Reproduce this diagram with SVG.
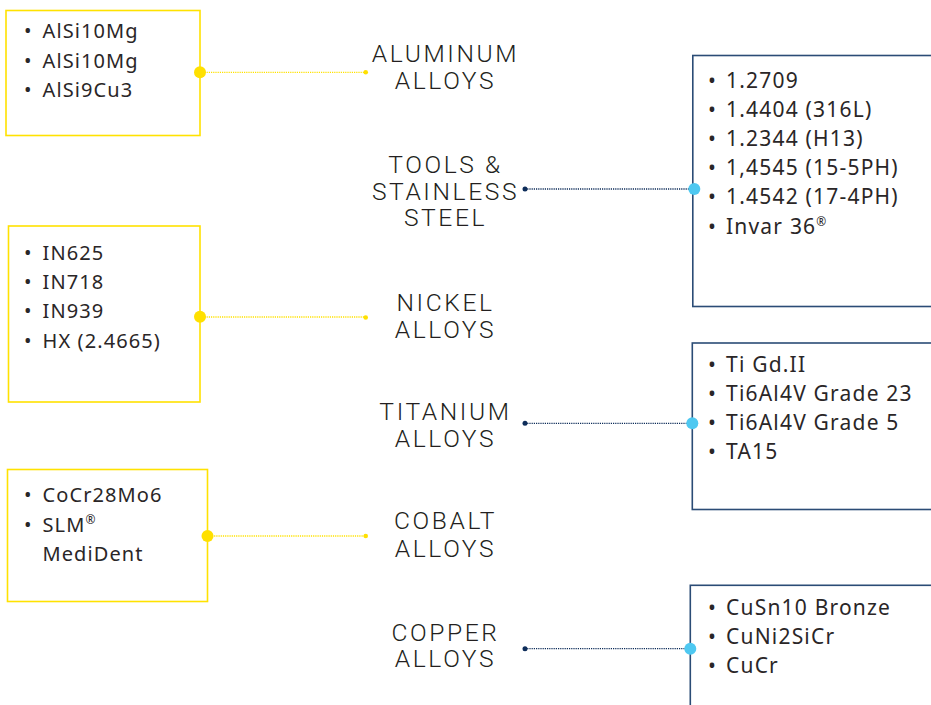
<svg xmlns="http://www.w3.org/2000/svg" width="931" height="705" viewBox="0 0 931 705">
<style>
  .ybox{fill:#fff;stroke:#FFE200;stroke-width:1.6}
  .bbox{fill:#fff;stroke:#2B4C76;stroke-width:1.6}
  .item{font-family:"Noto Sans","Open Sans","Liberation Sans",sans-serif;font-size:20px;font-weight:400;fill:#2a2627;letter-spacing:1.1px}
  .ritem{font-size:21px;letter-spacing:1.2px}
  .lab{font-family:Roboto,"Liberation Sans",sans-serif;font-weight:300;font-size:24.6px;fill:#231f20;text-anchor:middle;letter-spacing:2.6px}
  .yl{stroke:#FFE200;stroke-width:1.3;stroke-dasharray:1.2 1;fill:none}
  .bl{stroke:#0E2D5A;stroke-width:1.3;stroke-dasharray:1.2 1;fill:none}
  .ydot{fill:#FFE000}
  .bdot{fill:#0E2D5A}
  .cdot{fill:#4EC8F1}
  .sup{font-size:12px;letter-spacing:0}
</style>
<rect width="931" height="705" fill="#fff"/>

<g id="box-aluminum">
  <rect class="ybox" x="6" y="10.5" width="194" height="125"/>
  <text class="item" y="38"><tspan x="24">•</tspan><tspan x="42.5">AlSi10Mg</tspan></text>
  <text class="item" y="67.5"><tspan x="24">•</tspan><tspan x="42.5">AlSi10Mg</tspan></text>
  <text class="item" y="97"><tspan x="24">•</tspan><tspan x="42.5">AlSi9Cu3</tspan></text>
</g>
<g id="box-nickel">
  <rect class="ybox" x="8.5" y="226" width="191.5" height="176"/>
  <text class="item" y="260"><tspan x="24">•</tspan><tspan x="42.5">IN625</tspan></text>
  <text class="item" y="289"><tspan x="24">•</tspan><tspan x="42.5">IN718</tspan></text>
  <text class="item" y="318"><tspan x="24">•</tspan><tspan x="42.5">IN939</tspan></text>
  <text class="item" y="347.5"><tspan x="24">•</tspan><tspan x="42.5">HX (2.4665)</tspan></text>
</g>
<g id="box-cobalt">
  <rect class="ybox" x="7.5" y="469.5" width="200" height="132"/>
  <text class="item" y="502"><tspan x="24">•</tspan><tspan x="42.5">CoCr28Mo6</tspan></text>
  <text class="item" y="531.5"><tspan x="24">•</tspan><tspan x="42.5">SLM</tspan><tspan class="sup" dy="-8">®</tspan></text>
  <text class="item" x="42.5" y="560.5">MediDent</text>
</g>

<g id="label-aluminum">
  <text class="lab" x="445.5" y="62">ALUMINUM</text>
  <text class="lab" x="445.5" y="89">ALLOYS</text>
</g>
<g id="label-tools">
  <text class="lab" x="445.5" y="172.5">TOOLS &amp;</text>
  <text class="lab" x="445.5" y="199.5">STAINLESS</text>
  <text class="lab" x="445.5" y="226">STEEL</text>
</g>
<g id="label-nickel">
  <text class="lab" x="445.5" y="310.5">NICKEL</text>
  <text class="lab" x="445.5" y="337.5">ALLOYS</text>
</g>
<g id="label-titanium">
  <text class="lab" x="445.5" y="420">TITANIUM</text>
  <text class="lab" x="445.5" y="447">ALLOYS</text>
</g>
<g id="label-cobalt">
  <text class="lab" x="445.5" y="529">COBALT</text>
  <text class="lab" x="445.5" y="556.5">ALLOYS</text>
</g>
<g id="label-copper">
  <text class="lab" x="445.5" y="640.5">COPPER</text>
  <text class="lab" x="445.5" y="667">ALLOYS</text>
</g>

<g id="box-tools">
  <rect class="bbox" x="692.8" y="55.5" width="260" height="251"/>
  <text class="item ritem" y="87.5"><tspan x="708">•</tspan><tspan x="726">1.2709</tspan></text>
  <text class="item ritem" y="116.7"><tspan x="708">•</tspan><tspan x="726">1.4404 (316L)</tspan></text>
  <text class="item ritem" y="146"><tspan x="708">•</tspan><tspan x="726">1.2344 (H13)</tspan></text>
  <text class="item ritem" y="175"><tspan x="708">•</tspan><tspan x="726">1,4545 (15-5PH)</tspan></text>
  <text class="item ritem" y="204.3"><tspan x="708">•</tspan><tspan x="726">1.4542 (17-4PH)</tspan></text>
  <text class="item ritem" y="234"><tspan x="708">•</tspan><tspan x="726">Invar 36</tspan><tspan class="sup" dy="-8">®</tspan></text>
</g>
<g id="box-titanium">
  <rect class="bbox" x="692.3" y="343" width="260" height="166.5"/>
  <text class="item ritem" y="371.5"><tspan x="708">•</tspan><tspan x="726">Ti Gd.II</tspan></text>
  <text class="item ritem" y="401"><tspan x="708">•</tspan><tspan x="726">Ti6Al4V Grade 23</tspan></text>
  <text class="item ritem" y="430"><tspan x="708">•</tspan><tspan x="726">Ti6Al4V Grade 5</tspan></text>
  <text class="item ritem" y="459.3"><tspan x="708">•</tspan><tspan x="726">TA15</tspan></text>
</g>
<g id="box-copper">
  <rect class="bbox" x="690.3" y="585.3" width="260" height="140"/>
  <text class="item ritem" y="615"><tspan x="708">•</tspan><tspan x="726">CuSn10 Bronze</tspan></text>
  <text class="item ritem" y="644"><tspan x="708">•</tspan><tspan x="726">CuNi2SiCr</tspan></text>
  <text class="item ritem" y="673"><tspan x="708">•</tspan><tspan x="726">CuCr</tspan></text>
</g>

<g id="connectors">
  <line class="yl" x1="200" y1="72.3" x2="365.7" y2="72.3"/>
  <circle class="ydot" cx="200" cy="72.3" r="6"/>
  <circle class="ydot" cx="365.7" cy="72.3" r="2.3"/>

  <line class="yl" x1="200" y1="317" x2="365.7" y2="317"/>
  <circle class="ydot" cx="200" cy="316.7" r="6"/>
  <circle class="ydot" cx="365.7" cy="317.5" r="2.3"/>

  <line class="yl" x1="207.5" y1="536" x2="365.7" y2="536"/>
  <circle class="ydot" cx="207.5" cy="536" r="6"/>
  <circle class="ydot" cx="365.7" cy="536" r="2.3"/>

  <line class="bl" x1="525" y1="189" x2="694" y2="189"/>
  <circle class="bdot" cx="525" cy="189" r="2.5"/>
  <circle class="cdot" cx="694.3" cy="189" r="6"/>

  <line class="bl" x1="525" y1="423.3" x2="692" y2="423.3"/>
  <circle class="bdot" cx="525" cy="423.3" r="2.5"/>
  <circle class="cdot" cx="692.3" cy="423.3" r="6"/>

  <line class="bl" x1="525" y1="648.7" x2="690" y2="648.7"/>
  <circle class="bdot" cx="525" cy="648.7" r="2.5"/>
  <circle class="cdot" cx="690.3" cy="648.7" r="6"/>
</g>
</svg>
